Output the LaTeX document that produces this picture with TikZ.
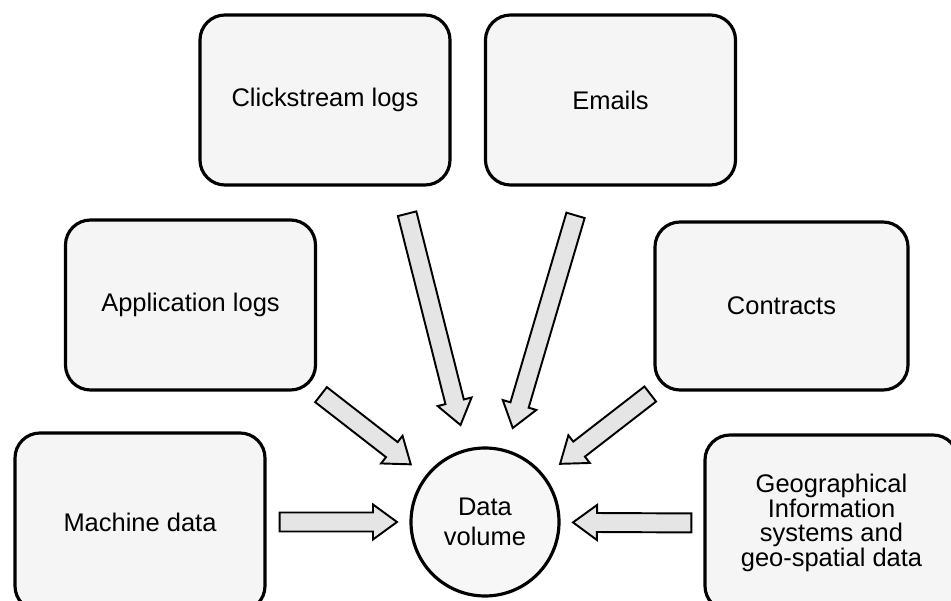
\documentclass[tikz,border=0pt]{standalone}
\usepackage{fontspec}
\setmainfont{Liberation Sans}
\usetikzlibrary{calc}

\begin{document}
\begin{tikzpicture}[
  source/.style={draw,line width=1.8pt,rounded corners=0.5cm,fill=black!4,
    minimum width=5cm,minimum height=3.4cm,align=center,
    font=\fontsize{14.5}{14}\selectfont},
  hub/.style={circle,draw,line width=1.8pt,fill=black!3,minimum size=2.96cm,
    align=center,font=\fontsize{14.5}{17}\selectfont},
  % block arrow: #1 = gap after the source, #2 = distance of the tip from the hub centre
  feed/.style 2 args={draw,line width=1.1pt,fill=black!10,line join=miter,
    to path={
      coordinate (ftail) at ($(\tikztostart)!#1!(\tikztotarget)$)
      coordinate (ftip) at ($(\tikztotarget)!#2!(\tikztostart)$)
      coordinate (fhead) at ($(ftip)!0.48cm!(ftail)$)
      ($(ftail)!0.19cm!90:(ftip)$) -- ($(fhead)!0.19cm!90:(ftip)$)
      -- ($(fhead)!0.35cm!90:(ftip)$) -- (ftip)
      -- ($(fhead)!0.35cm!-90:(ftip)$) -- ($(fhead)!0.19cm!-90:(ftip)$)
      -- ($(ftail)!0.19cm!-90:(ftip)$) -- cycle}}]
  \useasboundingbox (0,0) rectangle (19.02,-12.02);

  % sources
  \node [source] (clk) at (6.5,-2) {Clickstream logs};
  \node [source] (eml) at (12.21,-2) {Emails};
  \node [source] (app) at (3.81,-6.1) {Application logs};
  \node [source,minimum width=5.06cm,minimum height=3.36cm] (con) at (15.63,-6.12) {Contracts};
  \node [source,minimum height=3.56cm] (mach) at (2.8,-10.44) {Machine data};
  \node [source,minimum width=5.06cm,minimum height=3.52cm] (geo) at (16.63,-10.46)
    {Geographical\\Information\\systems and\\geo-spatial data};

  \node [hub] (dv) at (9.7,-10.44) {Data\\volume};

  % arrows into the hub
  \draw [feed={0.56cm}{2.0cm}] (clk.-49) to (dv);
  \draw [feed={0.6cm}{1.96cm}] (eml.-107) to (dv);
  \draw [feed={0.1cm}{1.88cm}] (app.south east) to (dv);
  \draw [feed={0.08cm}{1.9cm}] (con.south west) to (dv);
  \draw [feed={0.26cm}{1.76cm}] (mach.east) to (dv);
  \draw [feed={0.24cm}{1.76cm}] (geo.west) to (dv);

\end{tikzpicture}
\end{document}
